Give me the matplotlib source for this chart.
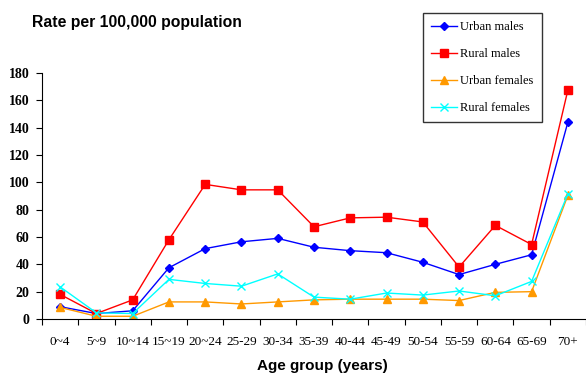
import matplotlib
matplotlib.use("Agg")
import matplotlib.pyplot as plt
import numpy as np

categories = ["0~4", "5~9", "10~14", "15~19", "20~24", "25-29", "30-34", "35-39",
              "40-44", "45-49", "50-54", "55-59", "60-64", "65-69", "70+"]
urban_males = [9, 4, 6, 37.5, 51.5, 56.5, 59, 52.5, 50, 48.5, 41.5, 32.5, 40, 47, 144]
rural_males = [18, 4, 14, 58, 98.5, 94.5, 94.5, 67.5, 74, 74.5, 71, 38, 68.5, 54.5, 167.5]
urban_females = [8.5, 2, 2, 12.5, 12.5, 11, 12.5, 14, 14.5, 14.5, 14.5, 13.5, 19.5, 20, 90.5]
rural_females = [23.5, 4.5, 4, 29, 26, 24, 33, 16, 14.5, 19, 17.5, 20.5, 17, 27.5, 91.5]
series_names = ["Urban males", "Rural males", "Urban females", "Rural females"]

fig = plt.figure(figsize=(5.86, 3.77), dpi=100)
ax = fig.add_axes([42/586, 1-319/377, 544/586, (319-73)/377])

x = np.arange(len(categories))
styles = [
    (urban_males, "#0000FF", "D", 4, 1.0),
    (rural_males, "#FF0000", "s", 6, 1.0),
    (urban_females, "#FF9900", "^", 5.5, 1.0),
    (rural_females, "#00FFFF", "x", 5.5, 1.0),
]
for (vals, col, mk, ms, lw), name in zip(styles, series_names):
    ax.plot(x, vals, color=col, marker=mk, markersize=ms, linewidth=lw,
            markeredgewidth=1.0, label=name)

ax.set_xlim(-0.5, len(categories) - 0.5)
ax.set_ylim(0, 180)
ax.set_yticks(np.arange(0, 181, 20))
ax.set_yticklabels([str(v) for v in range(0, 181, 20)],
                   fontfamily="Liberation Serif", fontweight="bold", fontsize=10)
ax.set_xticks(np.arange(-0.5, len(categories), 1.0))
ax.set_xticklabels([])
ax.set_xticks(x, minor=True)
ax.set_xticklabels(categories, minor=True, fontfamily="Liberation Serif", fontsize=9.5)
ax.tick_params(axis="x", which="major", direction="out", length=4, width=0.8)
ax.tick_params(axis="x", which="minor", length=0, pad=12)
ax.tick_params(axis="y", direction="out", length=4, width=0.8, pad=5)
ax.spines["top"].set_visible(False)
ax.spines["right"].set_visible(False)
ax.spines["left"].set_linewidth(0.8)
ax.spines["bottom"].set_linewidth(0.8)

fig.text(32/586, 1-23/377, "Rate per 100,000 population", fontfamily="Liberation Sans",
         fontweight="bold", fontsize=11.3, va="center", ha="left")
fig.text(322/586, 1-366/377, "Age group (years)", fontfamily="Liberation Sans",
         fontweight="bold", fontsize=11, va="center", ha="center")

leg = fig.legend(loc="upper right", bbox_to_anchor=(542/586, 1-13/377),
                 prop={"family": "Liberation Serif", "size": 9},
                 frameon=True, fancybox=False, edgecolor="black",
                 handlelength=2.1, labelspacing=1.2, borderpad=0.65, handletextpad=0.25,
                 borderaxespad=0)
leg.get_frame().set_linewidth(1.0)

fig.savefig("out.png", dpi=100)
